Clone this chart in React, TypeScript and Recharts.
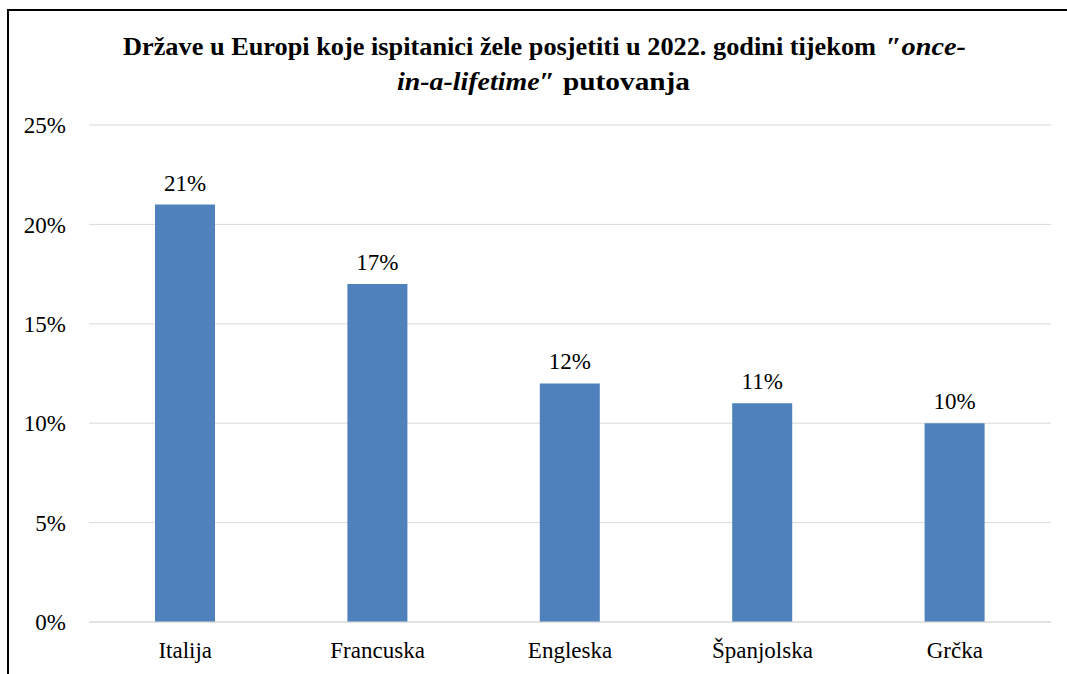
import { BarChart, Bar, XAxis, YAxis, CartesianGrid, LabelList } from "recharts";

const countries = ["Italija", "Francuska", "Engleska", "Španjolska", "Grčka"];
const shares = [21, 17, 12, 11, 10];
const yTicks = [0, 5, 10, 15, 20, 25];

const data = countries.map((name, i) => ({ name, value: shares[i] }));

const FONT = "'Liberation Serif', 'Times New Roman', serif";
const BAR = "#4f81bd";
const GRID = "#d9d9d9";

// title pieces: [text, x, baseline, textLength, italic]
const titleParts: [string, number, number, number, boolean][] = [
  ["Države u Europi koje ispitanici žele posjetiti u 2022. godini tijekom", 123, 55, 753, false],
  ["″once-", 886, 55, 80, true],
  ["in-a-lifetime″", 397, 90, 158, true],
  ["putovanja", 563, 90, 127, false],
];

export default function App() {
  return (
    <div
      style={{
        position: "fixed",
        left: 0,
        top: 0,
        width: 1067,
        height: 674,
        overflow: "hidden",
        background: "#fff",
      }}
    >
      {/* frame, only left and top edges visible */}
      <div
        style={{
          position: "absolute",
          left: 7,
          top: 9,
          width: 2000,
          height: 2000,
          borderLeft: "2px solid #000",
          borderTop: "2px solid #000",
        }}
      />

      <svg
        width={1067}
        height={110}
        style={{ position: "absolute", left: 0, top: 0 }}
      >
        {titleParts.map(([t, x, y, len, it], i) => (
          <text
            key={i}
            x={x}
            y={y}
            fontFamily={FONT}
            fontWeight="bold"
            fontStyle={it ? "italic" : "normal"}
            fontSize={25}
            textLength={len}
            lengthAdjust="spacingAndGlyphs"
            fill="#000"
          >
            {t}
          </text>
        ))}
      </svg>

      <div style={{ position: "absolute", left: 0, top: 0 }}>
        <BarChart
          width={1067}
          height={674}
          data={data}
          margin={{ top: 125, right: 16, bottom: 0, left: 0 }}
        >
          <CartesianGrid vertical={false} stroke={GRID} />
          <XAxis
            dataKey="name"
            axisLine={{ stroke: GRID }}
            tickLine={false}
            tickSize={0}
            tickMargin={20}
            height={52}
            tick={{ fill: "#000", fontFamily: FONT, fontSize: 23 }}
          />
          <YAxis
            domain={[0, 25]}
            ticks={yTicks}
            width={89}
            axisLine={false}
            tickLine={false}
            tickSize={0}
            tickMargin={23}
            tickFormatter={(v) => `${v}%`}
            tick={{ fill: "#000", fontFamily: FONT, fontSize: 23 }}
          />
          <Bar dataKey="value" fill={BAR} barSize={60} isAnimationActive={false}>
            <LabelList
              dataKey="value"
              position="top"
              offset={14}
              formatter={(v: number) => `${v}%`}
              style={{ fill: "#000", fontFamily: FONT, fontSize: 23 }}
            />
          </Bar>
        </BarChart>
      </div>
    </div>
  );
}
